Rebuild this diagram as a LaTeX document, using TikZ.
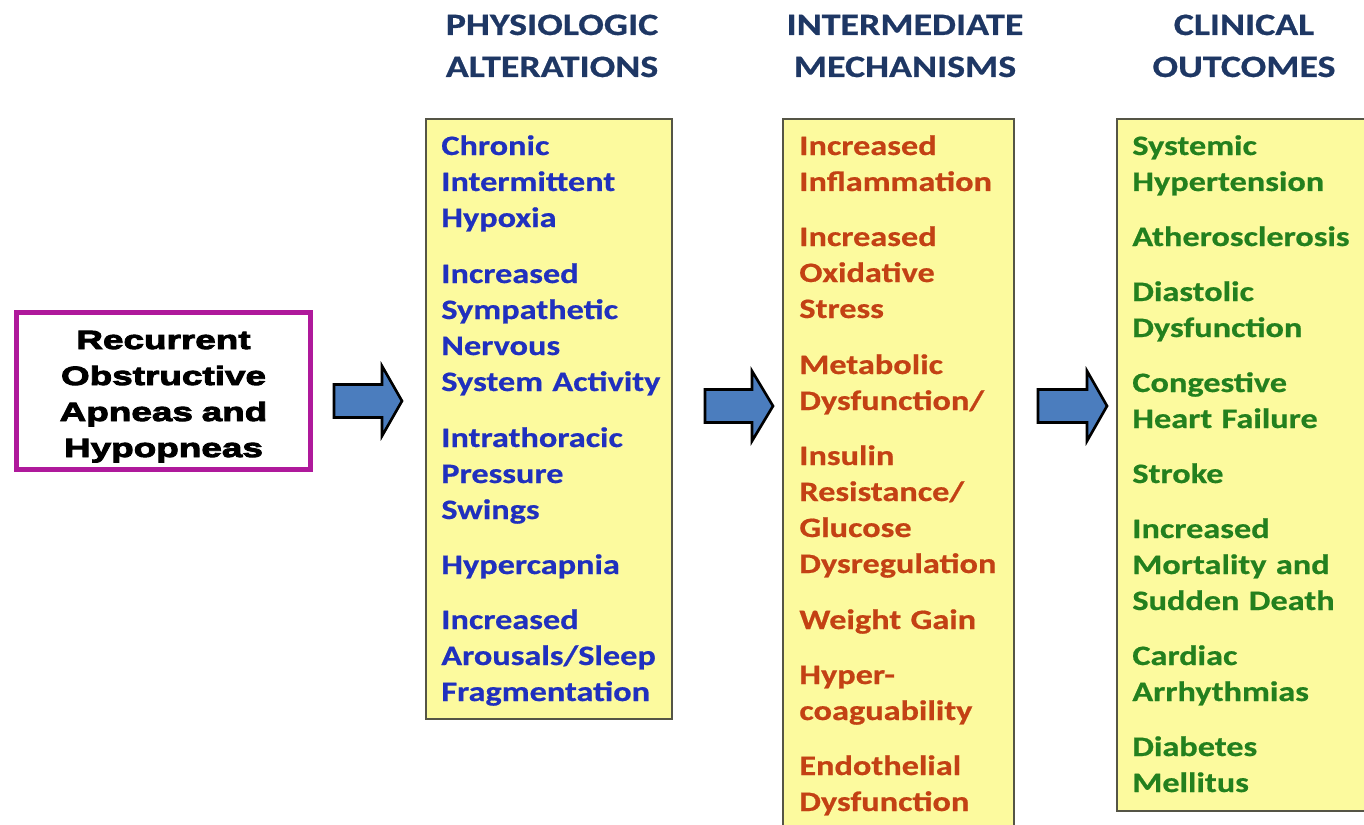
\documentclass[tikz,border=0pt]{standalone}
\usepackage{fontspec}
\setmainfont{Carlito}
\newfontfamily\listfont{Carlito}[FakeStretch=1.22,BoldFeatures={FakeBold=0.6}]
\newfontfamily\heavyfont{Liberation Sans}[FakeStretch=1.40,FakeBold=3.5]

\definecolor{headnavy}{RGB}{30,55,100}
\definecolor{physblue}{RGB}{32,48,190}
\definecolor{mechred}{RGB}{195,65,20}
\definecolor{clingreen}{RGB}{35,128,30}
\definecolor{boxyellow}{RGB}{252,250,158}
\definecolor{boxedge}{RGB}{85,85,70}
\definecolor{osapurple}{RGB}{175,25,155}
\definecolor{arrowblue}{RGB}{75,125,190}

\begin{document}
\begin{tikzpicture}[x=0.02cm, y=-0.02cm,
	heading/.style={text=headnavy, font=\listfont\bfseries\fontsize{17.7}{23.9}\selectfont, align=center, text width=6cm, anchor=base, inner sep=0pt},
	listbox/.style={draw=boxedge, fill=boxyellow, line width=1.1pt, anchor=north west, inner sep=0pt},
	listitem/.style={font=\listfont\bfseries\fontsize{16}{20.49}\selectfont, align=left, text width=5.6cm, anchor=base west, inner sep=0pt},
	physitem/.style={listitem, text=physblue},
	mechitem/.style={listitem, text=mechred},
	clinitem/.style={listitem, text=clingreen},
	blockarrow/.style={draw=black, line width=1.5pt, fill=arrowblue, line join=miter}]
	% Picture is laid out in pixel units, top to bottom
	\path[use as bounding box] (0,0) rectangle (1364,824);
	
	% Starting box
	\node[draw=osapurple, line width=2.85pt, minimum width=5.88cm, minimum height=3.14cm, inner sep=0pt] (osa) at (163.5,391) {};
	\node[align=center, text width=5.6cm, anchor=base, inner sep=0pt, font=\heavyfont\bfseries\fontsize{15}{20.49}\selectfont] (osatext) at (163.5,349) {Recurrent\\Obstructive\\Apneas and\\Hypopneas};
	
	%% Column headings
	\node[heading] (hphys) at (552,35) {PHYSIOLOGIC\\ALTERATIONS};
	\node[heading] (hmech) at (905,35) {INTERMEDIATE\\MECHANISMS};
	\node[heading] (hclin) at (1244,35) {CLINICAL\\OUTCOMES};
	
	%% Column boxes
	\node[listbox, minimum width=4.92cm, minimum height=12cm] (phys) at (425,118) {};
	\node[listbox, minimum width=4.62cm, minimum height=14.6cm] (mech) at (782,118) {};
	\node[listbox, minimum width=5.4cm, minimum height=13.84cm] (clin) at (1116,118) {};
	
	% Physiologic alterations
	\node[physitem] (p1) at (441,155) {Chronic\\Intermittent\\Hypoxia};
	\node[physitem] (p2) at (441,283) {Increased\\Sympathetic\\Nervous\\System Activity};
	\node[physitem] (p3) at (441,447) {Intrathoracic\\Pressure\\Swings};
	\node[physitem] (p4) at (441,574) {Hypercapnia};
	\node[physitem] (p5) at (441,629) {Increased\\Arousals/Sleep\\Fragmentation};
	
	% Intermediate mechanisms
	\node[mechitem] (m1) at (799,155) {Increased\\Inflammation};
	\node[mechitem] (m2) at (799,246) {Increased\\Oxidative\\Stress};
	\node[mechitem] (m3) at (799,374) {Metabolic\\Dysfunction/};
	\node[mechitem] (m4) at (799,465) {Insulin\\Resistance/\\Glucose\\Dysregulation};
	\node[mechitem] (m5) at (799,629) {Weight Gain};
	\node[mechitem] (m6) at (799,684) {Hyper-\\coaguability};
	\node[mechitem] (m7) at (799,775) {Endothelial\\Dysfunction};
	
	% Clinical outcomes
	\node[clinitem] (c1) at (1132,155) {Systemic\\Hypertension};
	\node[clinitem] (c2) at (1132,246) {Atherosclerosis};
	\node[clinitem] (c3) at (1132,301) {Diastolic\\Dysfunction};
	\node[clinitem] (c4) at (1132,392) {Congestive\\Heart Failure};
	\node[clinitem] (c5) at (1132,483) {Stroke};
	\node[clinitem] (c6) at (1132,538) {Increased\\Mortality and\\Sudden Death};
	\node[clinitem] (c7) at (1132,665) {Cardiac\\Arrhythmias};
	\node[clinitem] (c8) at (1132,756) {Diabetes\\Mellitus};
	
	%% Block arrows between the stages
	\coordinate (arrA) at (334,401);
	\draw[blockarrow] (arrA) ++(0,-16.5) -- ++(48,0) -- ++(0,-18.5) -- ++(20,35) -- ++(-20,35) -- ++(0,-18.5) -- ++(-48,0) -- cycle;
	
	\coordinate (arrB) at (705,406);
	\draw[blockarrow] (arrB) ++(0,-16.5) -- ++(47,0) -- ++(0,-18.5) -- ++(21,35) -- ++(-21,35) -- ++(0,-18.5) -- ++(-47,0) -- cycle;
	
	\coordinate (arrC) at (1038,406);
	\draw[blockarrow] (arrC) ++(0,-16.5) -- ++(49,0) -- ++(0,-18.5) -- ++(20,35) -- ++(-20,35) -- ++(0,-18.5) -- ++(-49,0) -- cycle;
	
\end{tikzpicture}
\end{document}
